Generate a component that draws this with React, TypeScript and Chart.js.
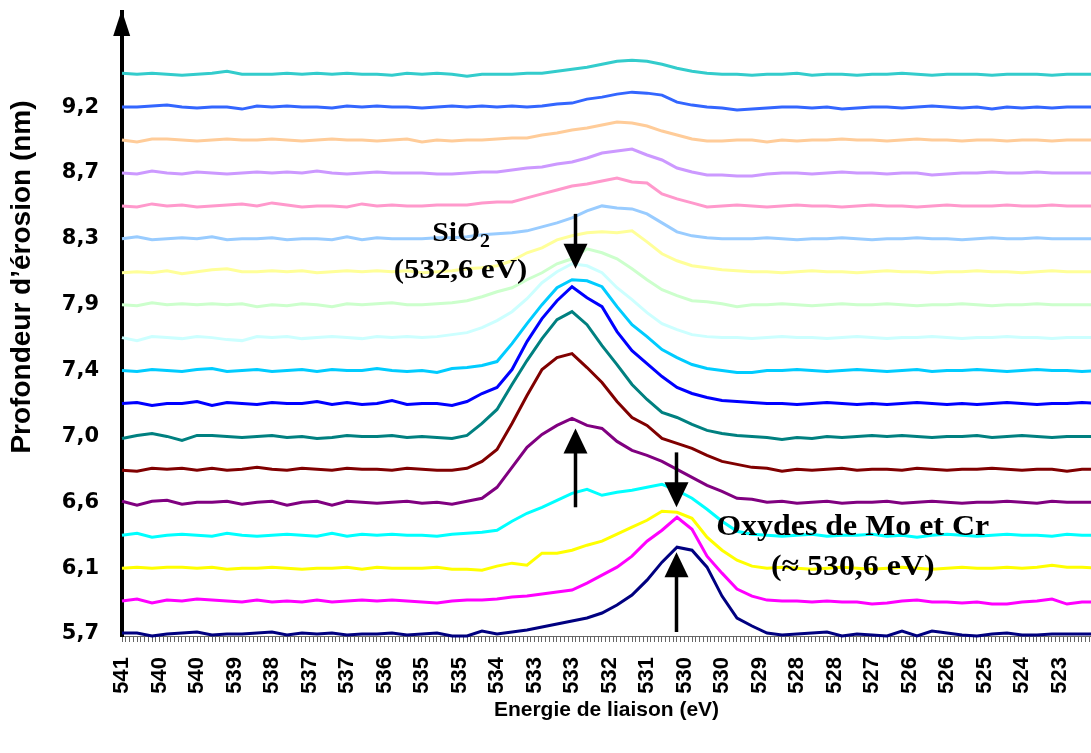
import React, { useEffect, useRef } from "react";
import { Chart, registerables } from "chart.js";

Chart.register(...registerables);

// Binding energies (eV) of the sampled channels
const ENERGY = [
  540.95, 540.67, 540.39, 540.11, 539.83, 539.55, 539.27, 538.99, 538.71, 538.43,
  538.15, 537.87, 537.59, 537.31, 537.03, 536.75, 536.47, 536.19, 535.91, 535.63,
  535.35, 535.07, 534.79, 534.51, 534.23, 533.95, 533.67, 533.39, 533.11, 532.83,
  532.55, 532.27, 531.99, 531.71, 531.43, 531.15, 530.87, 530.59, 530.31, 530.03,
  529.75, 529.47, 529.19, 528.91, 528.63, 528.35, 528.07, 527.79, 527.51, 527.23,
  526.95, 526.67, 526.39, 526.11, 525.83, 525.55, 525.27, 524.99, 524.71, 524.43,
  524.15, 523.87, 523.59, 523.31, 523.03, 522.75,
];

// Category axis of the original: channels of 0.07 eV, one label every 10 channels
const FIRST_CHANNEL = 540.95;
const CHANNEL_STEP = 0.07;
const CHANNEL_COUNT = 259;
const LABEL_EVERY = 10;
const ENERGY_TICK_LABELS = [
  "541", "540", "540", "539", "538", "537", "537", "536", "535", "535", "534", "533", "533",
  "532", "531", "530", "530", "529", "528", "528", "527", "526", "526", "525", "524", "523",
];

// Depth labels (nm), one for every second spectrum from the bottom
const DEPTH_LABELS = ["5,7", "6,1", "6,6", "7,0", "7,4", "7,9", "8,3", "8,7", "9,2"];

// Vertical offset between consecutive spectra (a.u.)
const OFFSET = 33;

const CURVE_COLORS = [
  "#000080", "#FF00FF", "#FFFF00", "#00FFFF", "#800080", "#800000", "#008080", "#0000FF", "#00CCFF",
  "#CCFFFF", "#CCFFCC", "#FFFF99", "#99CCFF", "#FF99CC", "#CC99FF", "#FFCC99", "#3366FF", "#33CCCC",
];

// O1s intensities (a.u., above each spectrum's baseline), bottom spectrum first
const S00 = [1,1,-2,0,1,2,-1,0,0,1, 2,-1,1,0,1,-1,0,0,1,-1, 0,1,-2,-2,3,0,2,4,7,10, 13,16,21,29,39,54,72,87,84,67, 38,16,8,1,-1,0,1,2,-2,0, -1,-2,3,-2,3,1,-1,-2,0,1, -1,-1,0,0,0,0];
const S01 = [0,2,-2,1,0,2,1,0,-1,1, -1,0,-1,1,-1,0,1,0,1,0, -1,-2,0,1,1,2,4,5,7,9, 11,18,26,34,45,60,71,84,72,45, 28,12,5,1,0,0,-1,0,-1,-1, -3,-2,0,1,-1,-1,-2,-1,-3,-3, -1,0,2,-3,-1,-1];
const S02 = [0,1,0,1,1,0,1,-1,0,0, 1,0,-1,0,0,1,-1,1,0,0, 0,1,-1,-1,-2,2,5,3,15,15, 18,23,27,34,41,48,57,56,50,31, 18,8,2,0,1,0,-1,0,1,0, -1,0,1,0,-1,0,1,0,0,1, 0,1,3,1,1,0];
const S03 = [0,2,-2,0,1,0,-1,2,0,-1, 0,1,0,-1,2,-1,1,0,1,0, 0,-1,1,2,3,5,14,22,28,35, 42,46,40,43,45,48,51,45,37,26, 14,4,1,0,-1,0,1,-1,0,0, 1,-1,0,-2,0,1,0,-1,0,1, 0,0,-1,1,0,0];
const S04 = [1,-3,1,2,-2,0,0,1,-2,0, 1,-3,0,1,-3,1,0,-1,0,1, -1,0,-2,1,4,15,35,55,68,77, 84,77,74,61,52,47,41,33,25,17, 11,4,3,0,1,-1,0,1,-1,0, 0,1,-1,0,1,0,-1,0,0,1, 0,-1,1,0,0,0];
const S05 = [-1,-2,1,0,1,-1,1,-1,0,2, 0,-1,1,0,-1,1,0,0,-1,1, 0,-1,-1,1,8,20,46,74,100,112, 116,102,87,68,52,44,31,26,21,14, 8,5,2,1,-2,0,-1,0,1,-1, 0,0,-1,1,0,-1,0,0,1,0, -1,0,0,-2,0,0];
const S06 = [-2,1,3,0,-4,1,1,0,-1,0, 1,-1,0,-2,-1,1,0,0,1,-1, 0,-1,-2,1,13,27,52,76,98,117, 125,112,91,72,52,37,24,19,12,6, 3,1,0,-1,-3,-1,-2,0,-1,0, 1,0,1,0,-1,0,0,1,-1,0, 1,0,-1,0,0,0];
const S07 = [0,1,-2,0,0,2,-2,1,0,-1, 1,0,0,2,-1,1,-1,0,3,-1, 0,0,-2,2,10,16,34,62,85,103, 117,106,97,72,53,40,27,16,10,6, 3,2,1,0,0,-1,0,1,0,-1, 0,-1,0,1,0,-1,0,-1,0,1, 0,-1,0,0,1,0];
const S08 = [0,-1,1,0,-1,1,2,-1,0,1, -1,0,1,-1,1,0,0,2,0,-1, 0,-2,2,3,5,9,27,47,66,83, 91,90,84,64,46,34,21,13,6,2, 0,-2,-2,0,0,1,0,-1,0,1, 0,-1,0,1,-1,0,0,1,0,-1, 0,1,0,0,-1,0];
const S09 = [0,-3,1,0,-1,1,0,-2,-3,1, 0,1,-1,0,1,0,-1,1,0,1, 0,1,3,5,10,17,26,39,55,66, 74,72,65,50,38,25,14,8,3,1, 0,0,-1,0,1,0,0,-1,0,1, 0,-1,0,0,1,0,-1,0,0,1, 0,0,-1,0,0,0];
const S10 = [0,-1,2,0,1,0,1,0,1,-2, 0,-1,1,0,-2,1,0,1,2,0, 0,1,2,4,8,13,17,25,32,41, 46,56,52,46,36,25,15,9,4,3, 1,-2,0,0,1,0,-1,0,1,0, 0,1,0,-1,0,0,1,0,-1,0, 0,1,0,0,0,0];
const S11 = [-1,0,-1,1,-2,0,2,3,0,0, 1,0,1,-1,0,1,0,1,0,1, -1,0,1,3,4,6,11,19,24,32, 36,39,40,39,41,30,18,11,6,4, 2,1,0,0,-1,0,1,0,0,-1, 0,1,0,0,-1,0,0,1,0,0, -1,0,1,0,0,0];
const S12 = [0,2,-1,0,1,0,2,-1,0,0, 1,-1,0,0,-1,2,-1,1,0,0, 0,1,1,2,4,5,6,8,12,16, 21,28,33,31,30,25,16,7,3,1, 0,0,0,1,0,-1,0,0,1,0, -1,0,0,1,0,0,-1,0,1,0, 0,1,0,0,0,0];
const S13 = [0,-1,2,0,1,-1,0,1,2,0, 3,1,-1,0,0,-1,2,0,1,0, 0,1,1,1,3,4,4,8,12,16, 20,22,25,28,24,23,12,7,3,-1, 0,1,0,-1,0,1,0,0,-1,0, 1,0,0,-1,0,1,0,0,0,1, 0,0,1,0,0,0];
const S14 = [0,-1,2,0,-1,1,0,-1,0,1, 0,1,0,2,0,-1,0,1,0,0, 0,-1,-1,0,1,1,3,5,6,9, 11,15,20,22,24,18,13,5,1,-2, -2,-3,-3,-1,0,0,-1,0,1,0, 0,-1,0,0,-2,-1,0,0,1,0, 0,1,0,0,0,0];
const S15 = [0,-2,1,1,0,-1,0,1,0,0, 1,0,-1,0,1,0,0,-1,0,1, -2,0,-1,0,0,1,2,2,5,7, 10,12,15,18,17,14,9,5,1,-1, -1,0,0,-2,0,-1,0,0,1,0, 0,-1,0,1,0,0,-1,0,0,-1, 0,0,-1,0,0,0];
const S16 = [0,0,1,2,0,-1,0,0,-2,1, 0,1,0,0,-1,1,0,1,0,0, -1,0,1,0,1,0,1,0,1,3, 4,8,10,13,15,14,12,5,2,0, -1,-3,-2,-1,0,0,-1,0,-2,-1, 0,0,-1,0,1,0,-1,0,-2,0, -1,0,-1,0,0,0];
const S17 = [1,0,1,0,-1,0,1,3,0,0, 0,1,0,1,0,1,0,0,-1,1, 0,1,0,-2,0,0,0,1,1,3, 5,7,10,13,14,13,10,6,3,1, 0,0,-1,0,0,1,-1,0,0,-1, 0,0,1,0,-1,0,0,0,-1,0, 0,0,-1,0,0,0];

const SPECTRA = [S00, S01, S02, S03, S04, S05, S06, S07, S08, S09, S10, S11, S12, S13, S14, S15, S16, S17];

// Annotations: arrows (energy, tail value, tip value) and labels (energy, baseline value)
const ARROWS = [
  { energy: 532.5, tail: 421, tip: 366 },
  { energy: 532.5, tail: 127, tip: 206 },
  { energy: 530.6, tail: 182, tip: 127 },
  { energy: 530.6, tail: 2, tip: 82 },
];
const LABEL_SIO2 = { energy: 534.62, value: 394 };
const LABEL_SIO2_E = { energy: 534.63, value: 357, text: "(532,6 eV)" };
const LABEL_OX = { energy: 527.31, value: 99, text: "Oxydes de Mo et Cr" };
const LABEL_OX_E = { energy: 527.31, value: 59, text: "(≈ 530,6 eV)" };

const X_TITLE = "Energie de liaison (eV)";
const Y_TITLE = "Profondeur d’érosion (nm)";

const SERIF = "'Liberation Serif', 'Times New Roman', serif";
const SANS = "'Liberation Sans', Arial, sans-serif";

const decorPlugin = {
  id: "decor",
  afterDatasetsDraw(chart: any) {
    const { ctx, scales } = chart;
    const xs = scales.x;
    const ys = scales.y;
    ctx.save();
    ctx.fillStyle = "#000";
    ctx.strokeStyle = "#000";
    ARROWS.forEach((a) => {
      const px = Math.round(xs.getPixelForValue(a.energy)) + 0.5;
      const y1 = ys.getPixelForValue(a.tail);
      const y2 = ys.getPixelForValue(a.tip);
      const dir = y2 > y1 ? 1 : -1;
      const headLen = 25;
      const half = 12;
      ctx.lineWidth = 3.5;
      ctx.beginPath();
      ctx.moveTo(px, y1);
      ctx.lineTo(px, y2 - dir * headLen + dir * 2);
      ctx.stroke();
      ctx.beginPath();
      ctx.moveTo(px, y2);
      ctx.lineTo(px - half, y2 - dir * headLen);
      ctx.lineTo(px + half, y2 - dir * headLen);
      ctx.closePath();
      ctx.fill();
    });

    const drawText = (text: string, cx: number, by: number, size: number) => {
      ctx.save();
      ctx.translate(cx, by);
      ctx.scale(1.1, 1);
      ctx.font = `bold ${size}px ${SERIF}`;
      ctx.textAlign = "center";
      ctx.textBaseline = "alphabetic";
      ctx.fillText(text, 0, 0);
      ctx.restore();
    };

    // SiO2 with subscript
    {
      const cx = xs.getPixelForValue(LABEL_SIO2.energy);
      const by = ys.getPixelForValue(LABEL_SIO2.value);
      ctx.save();
      ctx.font = `bold 27px ${SERIF}`;
      const w1 = ctx.measureText("SiO").width * 1.1;
      ctx.font = `bold 18px ${SERIF}`;
      const w2 = ctx.measureText("2").width * 1.1;
      const left = cx - (w1 + w2) / 2;
      ctx.translate(left, by);
      ctx.scale(1.1, 1);
      ctx.textAlign = "left";
      ctx.textBaseline = "alphabetic";
      ctx.font = `bold 27px ${SERIF}`;
      ctx.fillText("SiO", 0, 0);
      ctx.font = `bold 18px ${SERIF}`;
      ctx.fillText("2", w1 / 1.1, 6);
      ctx.restore();
    }
    drawText(LABEL_SIO2_E.text, xs.getPixelForValue(LABEL_SIO2_E.energy), ys.getPixelForValue(LABEL_SIO2_E.value), 28);
    drawText(LABEL_OX.text, xs.getPixelForValue(LABEL_OX.energy), ys.getPixelForValue(LABEL_OX.value), 29);
    drawText(LABEL_OX_E.text, xs.getPixelForValue(LABEL_OX_E.energy), ys.getPixelForValue(LABEL_OX_E.value), 29);
    ctx.restore();
  },
  afterDraw(chart: any) {
    const { ctx, chartArea } = chart;
    ctx.save();
    // arrow head on the vertical axis
    const ax = chartArea.left - 0.3;
    ctx.fillStyle = "#000";
    ctx.beginPath();
    ctx.moveTo(ax, chartArea.top - 2);
    ctx.lineTo(ax - 8.5, chartArea.top + 24);
    ctx.lineTo(ax + 8.5, chartArea.top + 24);
    ctx.closePath();
    ctx.fill();
    // vertical axis title
    ctx.translate(22, 277);
    ctx.rotate(-Math.PI / 2);
    ctx.font = `bold 28px ${SANS}`;
    ctx.textAlign = "center";
    ctx.textBaseline = "middle";
    ctx.fillText(Y_TITLE, 0, 0);
    ctx.restore();
  },
};

export default function App() {
  const canvasRef = useRef<HTMLCanvasElement | null>(null);

  useEffect(() => {
    const canvas = canvasRef.current;
    if (!canvas) return;

    const datasets = SPECTRA.map((s, i) => ({
      label: `${i}`,
      data: ENERGY.map((e, j) => ({ x: e, y: s[j] + i * OFFSET })),
      borderColor: CURVE_COLORS[i],
      backgroundColor: CURVE_COLORS[i],
      borderWidth: 3,
      pointRadius: 0,
      tension: 0,
      fill: false,
      order: SPECTRA.length - 1 - i,
      clip: 4,
    }));

    const chart = new Chart(canvas, {
      type: "line",
      data: { datasets },
      plugins: [decorPlugin],
      options: {
        animation: false,
        responsive: true,
        maintainAspectRatio: false,
        devicePixelRatio: 1,
        layout: { padding: { top: 12, right: 0, bottom: 0, left: 0 } },
        plugins: {
          legend: { display: false },
          tooltip: { enabled: false },
          title: { display: false },
        },
        scales: {
          x: {
            type: "linear",
            reverse: true,
            min: 522.862,
            max: FIRST_CHANNEL,
            afterBuildTicks: (scale: any) => {
              const ticks = [];
              for (let k = CHANNEL_COUNT - 1; k >= 0; k--) {
                ticks.push({ value: +(FIRST_CHANNEL - k * CHANNEL_STEP).toFixed(2) });
              }
              scale.ticks = ticks;
            },
            afterFit: (scale: any) => {
              scale.height = 117;
              scale.paddingLeft = 0;
              scale.paddingRight = 0;
            },
            ticks: {
              autoSkip: false,
              minRotation: 90,
              maxRotation: 90,
              padding: 15,
              color: "#000",
              font: { family: SANS, size: 22, weight: "bold" },
              callback: (value: any) => {
                const k = Math.round((FIRST_CHANNEL - Number(value)) / CHANNEL_STEP);
                return k % LABEL_EVERY === 0 ? ENERGY_TICK_LABELS[k / LABEL_EVERY] ?? "" : "";
              },
            },
            grid: {
              display: true,
              drawOnChartArea: false,
              drawTicks: true,
              tickLength: 6,
              color: "#666",
              lineWidth: 1,
            },
            border: { display: true, color: "#666", width: 1 },
            title: {
              display: true,
              text: X_TITLE,
              color: "#000",
              font: { family: SANS, size: 21, weight: "bold" },
              padding: { top: 0, bottom: 30 },
            },
          },
          y: {
            type: "linear",
            min: -2,
            max: 623.3,
            afterBuildTicks: (scale: any) => {
              scale.ticks = DEPTH_LABELS.map((_, i) => ({ value: i * 2 * OFFSET }));
            },
            afterFit: (scale: any) => {
              scale.width = 122;
              scale.paddingTop = 0;
              scale.paddingBottom = 0;
            },
            ticks: {
              autoSkip: false,
              padding: 23,
              color: "#000",
              font: { family: "'DejaVu Sans', Verdana, sans-serif", size: 21, weight: "bold" },
              callback: (value: any) => DEPTH_LABELS[Math.round(Number(value) / (2 * OFFSET))] ?? "",
            },
            grid: { display: false, drawTicks: false },
            border: { display: true, color: "#000", width: 4 },
          },
        },
      } as any,
    });

    return () => chart.destroy();
  }, []);

  return (
    <div style={{ position: "fixed", left: 0, top: 0, width: 1091, height: 753, background: "#fff" }}>
      <canvas ref={canvasRef} />
    </div>
  );
}
